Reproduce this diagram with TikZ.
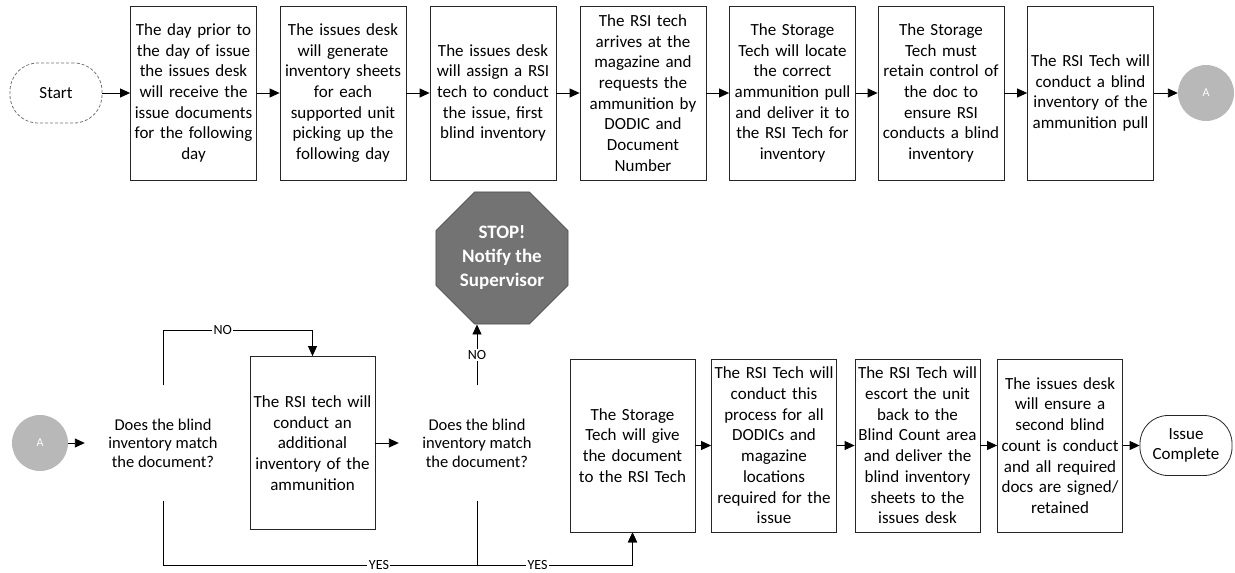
\documentclass[tikz,border=0pt]{standalone}
\usepackage{fontspec}
\setmainfont{Carlito}
\usetikzlibrary{arrows.meta,shapes.geometric}

\begin{document}
\begin{tikzpicture}[x=1pt,y=-1pt,
  every node/.style={inner sep=1pt},
  stepbox/.style={draw=black!85, line width=0.8pt, minimum width=126pt, minimum height=174pt,
    text width=122pt, align=center, font=\fontsize{17}{20.7}\selectfont},
  lowbox/.style={stepbox, minimum width=125pt, minimum height=173pt, text width=121pt},
  query/.style={minimum width=156pt, minimum height=115pt, align=center,
    font=\fontsize{16.5}{18.4}\selectfont},
  terminal/.style={rounded corners=28pt, line width=0.8pt, minimum width=92pt, minimum height=60pt,
    align=center, font=\fontsize{17}{20.7}\selectfont},
  pageref/.style={circle, fill=black!28, minimum size=56pt, text=white, font=\fontsize{12}{12}\selectfont},
  stopsign/.style={regular polygon, regular polygon sides=8, minimum size=143pt, inner sep=0pt,
    fill=black!55, draw=black!70, line width=0.8pt, text=white, align=center,
    font=\bfseries\fontsize{19}{24}\selectfont},
  flow/.style={line width=0.9pt, -{Triangle[length=10pt,width=9pt]}},
  link/.style={line width=0.9pt},
  tag/.style={fill=white, inner sep=1.5pt, font=\fontsize{14}{14}\selectfont}
]
\useasboundingbox (0,0) rectangle (1235,573);

% ---- first row ----
\node[terminal, draw=black!55, densely dashed] (start) at (56,93) {Start};
\node[stepbox] (b1) at (193.5,93) {The day prior to\\the day of issue\\the issues desk\\will receive the\\issue documents\\for the following\\day};
\node[stepbox] (b2) at (343,93) {The issues desk\\will generate\\inventory sheets\\for each\\supported unit\\picking up the\\following day};
\node[stepbox] (b3) at (493,93) {The issues desk\\will assign a RSI\\tech to conduct\\the issue, first\\blind inventory};
\node[stepbox] (b4) at (643,93) {The RSI tech\\arrives at the\\magazine and\\requests the\\ammunition by\\DODIC and\\Document\\Number};
\node[stepbox] (b5) at (792.5,93) {The Storage\\Tech will locate\\the correct\\ammunition pull\\and deliver it to\\the RSI Tech for\\inventory};
\node[stepbox] (b6) at (941,93) {The Storage\\Tech must\\retain control of\\the doc to\\ensure RSI\\conducts a blind\\inventory};
\node[stepbox] (b7) at (1090.5,93) {The RSI Tech will\\conduct a blind\\inventory of the\\ammunition pull};
\node[pageref] (a1) at (1206,93) {A};

\draw[flow] (start.east) -- (b1.west);
\draw[flow] (b1.east) -- (b2.west);
\draw[flow] (b2.east) -- (b3.west);
\draw[flow] (b3.east) -- (b4.west);
\draw[flow] (b4.east) -- (b5.west);
\draw[flow] (b5.east) -- (b6.west);
\draw[flow] (b6.east) -- (b7.west);
\draw[flow] (b7.east) -- (a1.west);

% ---- second row ----
\node[pageref] (a2) at (40,443) {A};
\node[query] (d1) at (163,443) {Does the blind\\inventory match\\the document?};
\node[lowbox] (extra) at (312.5,443) {The RSI tech will\\conduct an\\additional\\inventory of the\\ammunition};
\node[query] (d2) at (477,443) {Does the blind\\inventory match\\the document?};
\node[stopsign] (stop) at (502,258) {STOP!\\Notify the\\Supervisor};
\node[lowbox] (c1) at (632.5,445.5) {The Storage\\Tech will give\\the document\\to the RSI Tech};
\node[lowbox] (c2) at (774,445.5) {The RSI Tech will\\conduct this\\process for all\\DODICs and\\magazine\\locations\\required for the\\issue};
\node[lowbox] (c3) at (917.5,445.5) {The RSI Tech will\\escort the unit\\back to the\\Blind Count area\\and deliver the\\blind inventory\\sheets to the\\issues desk};
\node[lowbox] (c4) at (1060,445.5) {The issues desk\\will ensure a\\second blind\\count is conduct\\and all required\\docs are signed/\\retained};
\node[terminal, draw=black!85] (done) at (1186,445.5) {Issue\\Complete};

\coordinate (noL) at (163,330);
\coordinate (noR) at (312.5,330);
\coordinate (yesL) at (163,565);
\coordinate (yesR) at (632.5,565);

\draw[flow] (a2.east) -- (d1.west);
\draw[flow] (d1.north) -- (noL) -- node[tag, pos=0.4] {NO} (noR) -- (extra.north);
\draw[flow] (extra.east) -- (d2.west);
\draw[flow] (d2.north) -- node[tag] {NO} (d2.north |- stop.south);
\draw[flow] (d1.south) -- (yesL) -- node[tag, pos=0.46] {YES} (yesR) -- (c1.south);
\draw[flow] (d2.south) -- (d2.south |- yesL) -- node[tag, pos=0.39] {YES} (yesR) -- (c1.south);

\draw[flow] (c1.east) -- (c2.west);
\draw[flow] (c2.east) -- (c3.west);
\draw[flow] (c3.east) -- (c4.west);
\draw[flow] (c4.east) -- (done.west);
\end{tikzpicture}
\end{document}
